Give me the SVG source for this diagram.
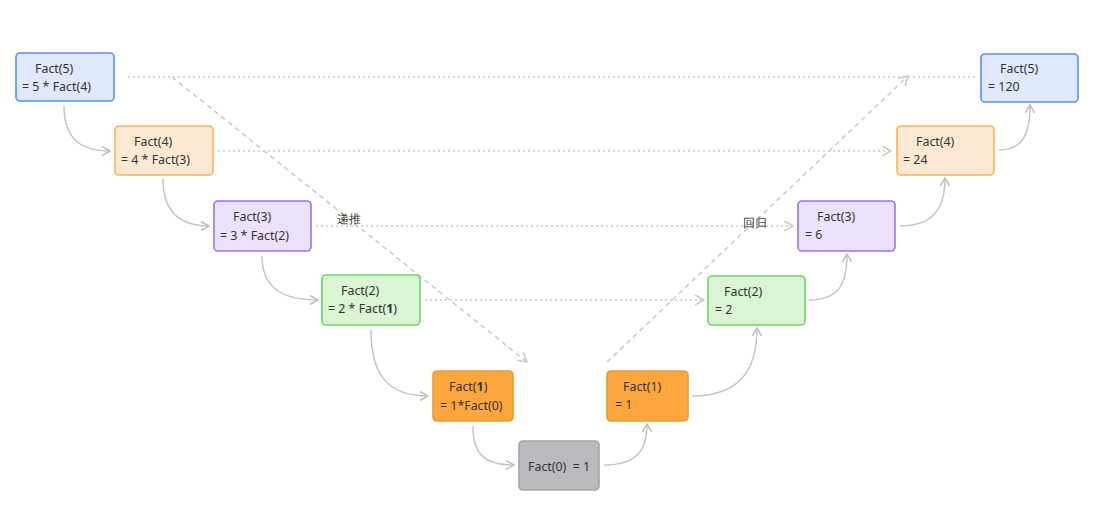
<svg xmlns="http://www.w3.org/2000/svg" width="1099" height="515" viewBox="0 0 1099 515">
<defs>
<marker id="chev" viewBox="0 0 10 10" refX="9" refY="5" markerWidth="10" markerHeight="10" markerUnits="userSpaceOnUse" orient="auto">
<path d="M1,0.5 L9,5 L1,9.5" fill="none" stroke="#bdbdbd" stroke-width="1.5"/>
</marker>
<marker id="chev2" viewBox="0 0 10 10" refX="9" refY="5" markerWidth="11" markerHeight="11" markerUnits="userSpaceOnUse" orient="auto">
<path d="M1,0.5 L9,5 L1,9.5" fill="none" stroke="#c8c8c8" stroke-width="1.4"/>
</marker>
</defs>
<style>
text{font-family:"Noto Sans","Open Sans",sans-serif;font-size:12.4px;fill:#333}
.n{stroke-width:1.6}
.blue{fill:#dfe8fc;stroke:#5b8ef0}
.lor{fill:#fde9d2;stroke:#f8b25a}
.pur{fill:#ebe1fb;stroke:#a06ef0}
.grn{fill:#d9f5d3;stroke:#6bd46a}
.org{fill:#fda63d;stroke:#e89a3a}
.gry{fill:#b9bbbe;stroke:#a3a5a8}
.c{fill:none;stroke:#c4c4c4;stroke-width:1.5;marker-end:url(#chev)}
.dot{fill:none;stroke:#c8c8c8;stroke-width:1.5;stroke-dasharray:2 3}
.dash{fill:none;stroke:#c8c8c8;stroke-width:1.5;stroke-dasharray:5 4}
</style>
<g id="connectors">
<path class="dot" d="M128,77 H976"/>
<path class="dot" d="M218,151 H891" marker-end="url(#chev2)"/>
<path class="dot" d="M316,226 H793" marker-end="url(#chev2)"/>
<path class="dot" d="M425,300 H704" marker-end="url(#chev2)"/>
<path class="dash" d="M172,77 L527,362" marker-end="url(#chev2)"/>
<path class="dash" d="M607,362 L908,76" marker-end="url(#chev2)"/>
<path class="c" d="M64,106 C64,140 82,151 110,151"/>
<path class="c" d="M163,179 C163,214 182,226 209,226"/>
<path class="c" d="M262,256 C262,290 285,300 318,300"/>
<path class="c" d="M371,330 C371,375 388,396 428,396"/>
<path class="c" d="M473,426 C473,455 485,465 514,465"/>
<path class="c" d="M604,465 C635,465 647,452 647,424"/>
<path class="c" d="M692,396 C738,396 757,372 757,328"/>
<path class="c" d="M809,300 C838,300 847,285 847,254"/>
<path class="c" d="M900,226 C930,226 945,212 945,178"/>
<path class="c" d="M999,150 C1022,150 1030,135 1030,105"/>
<text x="337" y="223">递推</text>
<text x="743" y="227">回归</text>
</g>
<g id="f5l"><rect class="n blue" x="16" y="53" width="98" height="48" rx="4"/><text x="35" y="73">Fact(5)</text><text x="22" y="91">= 5 * Fact(4)</text></g>
<g id="f4l"><rect class="n lor" x="115" y="126" width="98" height="49" rx="4"/><text x="134" y="146">Fact(4)</text><text x="121" y="164">= 4 * Fact(3)</text></g>
<g id="f3l"><rect class="n pur" x="214" y="201" width="97" height="50" rx="4"/><text x="233" y="221">Fact(3)</text><text x="220" y="240">= 3 * Fact(2)</text></g>
<g id="f2l"><rect class="n grn" x="322" y="275" width="98" height="50" rx="4"/><text x="341" y="295">Fact(2)</text><text x="328" y="313">= 2 * Fact(<tspan font-weight="bold">1</tspan>)</text></g>
<g id="f1l"><rect class="n org" x="433" y="371" width="80" height="50" rx="4"/><text x="449" y="391">Fact(<tspan font-weight="bold">1</tspan>)</text><text x="440" y="410">= 1*Fact(0)</text></g>
<g id="f0"><rect class="n gry" x="519" y="441" width="80" height="49" rx="4"/><text x="528" y="471" xml:space="preserve" style="white-space:pre">Fact(0)  = 1</text></g>
<g id="f1r"><rect class="n org" x="607" y="371" width="81" height="50" rx="4"/><text x="623" y="391">Fact(1)</text><text x="615" y="409">= 1</text></g>
<g id="f2r"><rect class="n grn" x="708" y="276" width="97" height="49" rx="4"/><text x="724" y="296">Fact(2)</text><text x="715" y="314">= 2</text></g>
<g id="f3r"><rect class="n pur" x="798" y="201" width="97" height="50" rx="4"/><text x="817" y="221">Fact(3)</text><text x="805" y="239">= 6</text></g>
<g id="f4r"><rect class="n lor" x="897" y="126" width="97" height="49" rx="4"/><text x="916" y="146">Fact(4)</text><text x="903" y="164">= 24</text></g>
<g id="f5r"><rect class="n blue" x="981" y="54" width="97" height="48" rx="4"/><text x="1000" y="73">Fact(5)</text><text x="988" y="91">= 120</text></g>
</svg>
